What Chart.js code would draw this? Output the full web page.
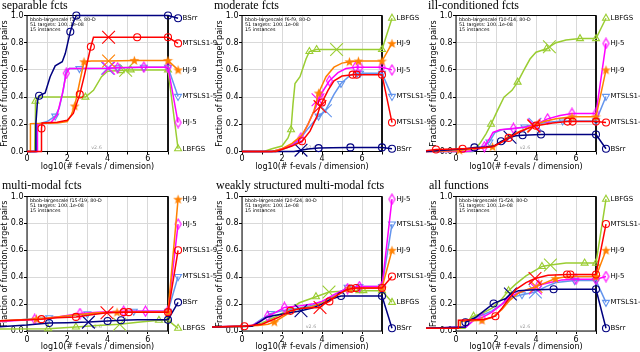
<!DOCTYPE html>
<html><head><meta charset="utf-8">
<script src="https://cdn.jsdelivr.net/npm/chart.js@4.4.1/dist/chart.umd.min.js"></script>
<style>
html,body{margin:0;padding:0;background:#fff;width:640px;height:352px;overflow:hidden}
#wrap{position:relative;width:640px;height:352px}
#wrap canvas{position:absolute;left:0;top:0}
</style></head><body><div id="wrap"></div>
<script>
// ---- categories / labels ----
const ALGOS = ['BSrr','MTSLS1-9','HJ-9','MTSLS1-5','HJ-5','LBFGS'];
const TITLES = ['separable fcts','moderate fcts','ill-conditioned fcts','multi-modal fcts','weakly structured multi-modal fcts','all functions'];
const FRANGES = ['f1-f5','f6-f9','f10-f14','f15-f19','f20-f24','f1-f24'];
const X_TICKS = [0,2,4,6];
const Y_TICKS = [0,0.2,0.4,0.6,0.8,1.0];
// data points: [log10(#fevals/dim), fraction, marker(1=marker,2=cross)]
// ---- separable ----
const sep_BSrr = [[0,0],[0.42,0],[0.44,0.2],[0.52,0.37],[0.6,0.41,1],[0.9,0.43],[1.15,0.55],[1.4,0.63],[1.75,0.66],[1.9,0.72],[2.15,0.88,1],[2.3,0.95],[2.45,1,1],[7,1,1],[7.5,0.98,1]];
const sep_MTSLS19 = [[0,0],[0.7,0],[0.72,0.17,1],[0.75,0.21],[1.5,0.215],[2.0,0.23],[2.3,0.28],[2.62,0.42,1],[2.85,0.56],[3.0,0.66],[3.17,0.77,1],[3.3,0.84],[4.05,0.84,2],[5.47,0.84,1],[7,0.84,1],[7.5,0.795,1]];
const sep_HJ9 = [[0,0],[0.15,0],[0.17,0.205],[1.5,0.21],[2.0,0.22],[2.2,0.27],[2.37,0.335,1],[2.6,0.5],[2.83,0.66,1],[3.2,0.665],[4.05,0.665,2],[5.33,0.67,1],[7,0.67,1],[7.5,0.6,1]];
const sep_MTSLS15 = [[0,0],[0.48,0],[0.5,0.2],[1.0,0.22],[1.4,0.26,1],[1.6,0.32],[1.8,0.45],[1.95,0.6],[2.1,0.61],[2.6,0.61,1],[4.0,0.612,2],[4.5,0.615,1],[5.8,0.62,1],[7,0.62,1],[7.5,0.405,1]];
const sep_HJ5 = [[0,0],[0.5,0],[0.52,0.2],[1.2,0.215],[1.5,0.27],[1.75,0.42],[1.95,0.575,1],[2.1,0.61],[4.05,0.612,2],[4.5,0.615,1],[5.8,0.62,1],[7,0.62,1],[7.5,0.213,1]];
const sep_LBFGS = [[0,0],[0.38,0],[0.4,0.2],[0.42,0.37,1],[0.55,0.4],[2.9,0.4,1],[3.3,0.45],[3.7,0.55],[4.0,0.59],[4.65,0.595,1],[4.9,0.597,2],[5.15,0.6,1],[7,0.6,1],[7.5,0.02,1]];
// ---- moderate ----
const mod_BSrr = [[0,0],[2.6,0],[2.95,0.01,2],[3.3,0.018],[3.83,0.025,1],[4.5,0.028],[5.42,0.03,1],[7,0.03,1],[7.5,0.02,1]];
const mod_MTSLS19 = [[0,0],[1.7,0],[2.5,0.04],[3.0,0.075,1],[3.4,0.15],[3.75,0.26],[3.9,0.33,2],[4.0,0.36,1],[4.3,0.45],[4.6,0.52],[5.0,0.555],[5.53,0.565,1],[5.73,0.565,1],[7,0.565,1],[7.5,0.213,1]];
const mod_HJ9 = [[0,0],[1.5,0],[2.0,0.02],[2.5,0.06],[3.0,0.12],[3.3,0.2],[3.6,0.3],[3.83,0.43,1],[4.2,0.55],[4.6,0.62],[5.0,0.65],[5.37,0.66,1],[5.82,0.665,1],[7,0.665,1],[7.5,0.795,1]];
const mod_MTSLS15 = [[0,0],[1.7,0],[2.3,0.03],[2.8,0.07],[3.2,0.15],[3.6,0.22],[3.83,0.26,1],[4.17,0.3,2],[4.6,0.42],[4.95,0.5,1],[5.4,0.56],[5.75,0.575,1],[5.9,0.575,1],[7,0.575,1],[7.5,0.405,1]];
const mod_HJ5 = [[0,0],[1.5,0],[2.0,0.02],[2.5,0.05],[2.95,0.1,1],[3.3,0.2],[3.7,0.33],[3.8,0.38,2],[3.9,0.41,1],[4.37,0.52,1],[4.8,0.58],[5.2,0.61],[5.67,0.62,1],[5.9,0.62,1],[7,0.62,1],[7.5,0.6,1]];
const mod_LBFGS = [[0,0],[1.1,0],[1.5,0.02],[2.0,0.04],[2.3,0.1],[2.45,0.16,1],[2.55,0.35],[2.65,0.5],[2.9,0.55],[3.2,0.68],[3.37,0.735,1],[3.73,0.75,1],[4.73,0.75,2],[7,0.75,1],[7.5,0.98,1]];
// ---- ill-conditioned ----
const ill_BSrr = [[-1.5,0],[0.5,0.02],[0.92,0.03,1],[1.5,0.033],[1.9,0.04],[2.25,0.075,1],[2.7,0.105,2],[3.0,0.115],[3.33,0.12,1],[4.25,0.125,1],[7,0.125,1],[7.5,0.02,1]];
const ill_MTSLS19 = [[-1.5,0.005],[-1.0,0.015,1],[0.33,0.02,1],[1.2,0.025],[1.83,0.035],[2.3,0.07],[2.63,0.1,1],[3.2,0.145],[3.6,0.17],[3.9,0.185,2],[4.0,0.19,1],[4.83,0.21],[5.58,0.22,1],[5.83,0.22,1],[7,0.22,1],[7.5,0.213,1]];
const ill_HJ9 = [[-1.5,0],[0.0,0.005],[0.17,0.01,1],[1.0,0.02],[1.83,0.035,1],[2.2,0.06],[2.6,0.11],[3.2,0.15],[3.87,0.19,2],[4.4,0.22],[5.0,0.24],[5.8,0.255,1],[7,0.255,1],[7.5,0.6,1]];
const ill_MTSLS15 = [[-1.5,0],[0.8,0],[1.3,0.03],[1.67,0.07,1],[1.95,0.14],[2.3,0.16],[2.9,0.17],[3.42,0.18,1],[3.95,0.2,2],[4.6,0.215],[5.33,0.225,1],[7,0.225,1],[7.5,0.405,1]];
const ill_HJ5 = [[-1.5,0],[0.5,0],[1.0,0.01],[1.42,0.035,1],[1.7,0.1],[1.85,0.14],[2.2,0.16],[2.87,0.17,1],[3.5,0.18],[3.9,0.195,2],[4.58,0.24,1],[5.2,0.265],[5.8,0.28,1],[7,0.28,1],[7.5,0.795,1]];
const ill_LBFGS = [[-1.5,0],[0.85,0],[1.2,0.06],[1.5,0.13],[1.75,0.2,1],[2.1,0.31],[2.4,0.4],[2.8,0.45],[3.08,0.51,1],[3.4,0.6],[3.7,0.68],[4.0,0.73],[4.53,0.755,1],[4.67,0.77,2],[5.0,0.8],[5.5,0.82],[6.2,0.83,1],[7,0.83,1],[7.5,0.98,1]];
// ---- multi-modal ----
const mm_BSrr = [[-1.5,0.03],[0,0.045],[1.1,0.06,1],[2.0,0.062],[3.05,0.066,2],[4.0,0.074,1],[4.67,0.08,1],[5.5,0.083],[7,0.083,1],[7.5,0.213,1]];
const mm_MTSLS19 = [[-1.5,0.075],[0.72,0.088,1],[1.5,0.098],[2.43,0.105,1],[3.2,0.12],[3.97,0.135,2],[4.8,0.14,1],[5.05,0.14,1],[7,0.14,1],[7.5,0.6,1]];
const mm_HJ9 = [[-1.5,0.075],[0.47,0.09,1],[1.5,0.105],[2.47,0.12],[3.5,0.135],[4.47,0.14,1],[5.5,0.142],[7,0.142,1],[7.5,0.98,1]];
const mm_MTSLS15 = [[-1.5,0.07],[1.1,0.098,1],[2.0,0.11],[3.0,0.128,1],[4.0,0.137],[5.3,0.147,1],[7,0.147,1],[7.5,0.405,1]];
const mm_HJ5 = [[-1.5,0.07],[0.38,0.086,1],[1.5,0.105],[2.63,0.13,1],[3.5,0.14],[4.8,0.147,1],[5.88,0.147,1],[7,0.147,1],[7.5,0.795,1]];
const mm_LBFGS = [[-1.5,0.015],[1.05,0.017,1],[2.43,0.03,1],[3.5,0.04],[4.6,0.05,2],[5.5,0.065],[6.55,0.08,1],[7,0.08,1],[7.5,0.02,1]];
// ---- weakly structured ----
const ws_BSrr = [[-1.5,0.03],[0.5,0.035],[0.9,0.07],[1.2,0.1],[1.6,0.115],[2.2,0.13],[2.95,0.15,2],[3.5,0.17],[4.0,0.2],[4.5,0.24],[4.95,0.26,1],[7,0.26,1],[7.5,0.02,1]];
const ws_MTSLS19 = [[-1.5,0.03],[0.12,0.035,1],[1.0,0.05],[1.8,0.1],[2.42,0.15,1],[3.0,0.17],[3.9,0.175,2],[4.1,0.2],[4.37,0.22,1],[4.8,0.27],[5.2,0.305],[5.45,0.315,1],[5.7,0.32,1],[7,0.32,1],[7.5,0.405,1]];
const ws_HJ9 = [[-1.5,0.03],[0.8,0.04],[1.3,0.05],[1.62,0.067,1],[2.2,0.12],[2.7,0.16],[3.5,0.18],[4.2,0.22],[4.8,0.27],[5.37,0.315,1],[7,0.32,1],[7.5,0.6,1]];
const ws_MTSLS15 = [[-1.5,0.03],[0.5,0.04],[1.0,0.09],[1.45,0.13,1],[2.0,0.15],[2.8,0.17],[3.5,0.19],[4.2,0.23],[4.8,0.28],[5.28,0.325,1],[5.87,0.33,1],[7,0.33,1],[7.5,0.795,1]];
const ws_HJ5 = [[-1.5,0.03],[0.5,0.04],[1.0,0.08],[1.28,0.11,1],[1.7,0.14],[2.12,0.175,1],[2.8,0.185],[3.5,0.2],[4.0,0.22],[4.6,0.27],[5.0,0.3],[5.28,0.315,1],[5.87,0.33,1],[7,0.33,1],[7.5,0.98,1]];
const ws_LBFGS = [[-1.5,0.03],[0.5,0.035],[1.0,0.06],[1.6,0.1],[2.37,0.16],[2.87,0.21],[3.7,0.255,1],[4.35,0.29,2],[5.0,0.295],[5.87,0.3,1],[6.07,0.3,1],[7,0.3,1],[7.5,0.213,1]];
// ---- all functions ----
const all_BSrr = [[-1.5,0.02],[0.45,0.03],[0.47,0.065,1],[0.97,0.1],[1.4,0.15],[1.88,0.205,1],[2.47,0.24],[2.72,0.275,2],[3.13,0.3],[3.7,0.305],[4.88,0.31,1],[7,0.31,1],[7.5,0.02,1]];
const all_MTSLS19 = [[-1.5,0.02],[0.1,0.02],[0.12,0.08],[1.4,0.085],[1.97,0.11,1],[2.3,0.17],[2.6,0.23],[3.0,0.31],[3.5,0.36],[3.95,0.39,2],[4.6,0.415],[5.55,0.42,1],[5.72,0.42,1],[7,0.42,1],[7.5,0.795,1]];
const all_HJ9 = [[-1.5,0.02],[0.2,0.02],[0.22,0.07],[1.3,0.08,1],[1.8,0.1],[2.3,0.16],[2.7,0.23],[3.1,0.28],[3.6,0.31],[4.0,0.33,2],[4.97,0.39,1],[5.6,0.405],[7,0.405,1],[7.5,0.6,1]];
const all_MTSLS15 = [[-1.5,0.02],[0.5,0.03],[1.0,0.1],[1.5,0.13],[1.8,0.15],[2.3,0.2],[2.8,0.25],[3.3,0.27,1],[3.97,0.29,2],[4.5,0.33],[5.0,0.36],[5.93,0.375,1],[7,0.375,1],[7.5,0.213,1]];
const all_HJ5 = [[-1.5,0.02],[0.5,0.03],[0.9,0.08],[1.3,0.1,1],[1.8,0.14],[2.3,0.2],[2.63,0.25],[3.2,0.29],[3.7,0.31],[3.97,0.32,2],[4.13,0.34,1],[4.7,0.36],[5.3,0.38],[6.0,0.385,1],[7,0.385,1],[7.5,0.405,1]];
const all_LBFGS = [[-1.5,0.02],[0.45,0.02],[0.5,0.07],[0.88,0.11,1],[1.3,0.13],[1.8,0.17],[2.3,0.24],[2.63,0.3,1],[3.0,0.35],[3.5,0.41],[4.3,0.48,1],[4.72,0.49,2],[5.5,0.505],[6.43,0.505,1],[7,0.505,1],[7.5,0.98,1]];

const SERIES = [
  [sep_BSrr, sep_MTSLS19, sep_HJ9, sep_MTSLS15, sep_HJ5, sep_LBFGS],
  [mod_BSrr, mod_MTSLS19, mod_HJ9, mod_MTSLS15, mod_HJ5, mod_LBFGS],
  [ill_BSrr, ill_MTSLS19, ill_HJ9, ill_MTSLS15, ill_HJ5, ill_LBFGS],
  [mm_BSrr, mm_MTSLS19, mm_HJ9, mm_MTSLS15, mm_HJ5, mm_LBFGS],
  [ws_BSrr, ws_MTSLS19, ws_HJ9, ws_MTSLS15, ws_HJ5, ws_LBFGS],
  [all_BSrr, all_MTSLS19, all_HJ9, all_MTSLS15, all_HJ5, all_LBFGS]
];

// ---- styles / layout ----
const COLORS = ['#000080','#ff0000','#ff8000','#6495ed','#ff00ff','#9acd32'];
const DRAW_ORDER = [1,0,2,4,3,5]; // lower = on top
const GEOM = [
  {L:27, R:168, T:15.5, B:151.5, H:20, tx:2, ty:9},
  {L:242, R:382, T:15.5, B:151.5, H:20, tx:214, ty:9},
  {L:456, R:596, T:15.5, B:151.5, H:20, tx:428, ty:9},
  {L:27, R:168, T:196.5, B:331, H:21, tx:2, ty:189},
  {L:242, R:382, T:196.5, B:331, H:21, tx:216, ty:189},
  {L:456, R:596, T:196.5, B:331, H:21, tx:429, ty:189}
];

function makeStar(color){
  const c=document.createElement('canvas'); c.width=11; c.height=11;
  const g=c.getContext('2d'); g.beginPath();
  for(let k=0;k<10;k++){const r=k%2?2.1:5.2; const a=-Math.PI/2+k*Math.PI/5; g.lineTo(5.5+r*Math.cos(a),5.9+r*Math.sin(a));}
  g.closePath(); g.fillStyle=color; g.fill(); return c;
}
function makeDiamond(color){
  const c=document.createElement('canvas'); c.width=9; c.height=12;
  const g=c.getContext('2d'); g.beginPath();
  g.moveTo(4.5,1); g.lineTo(7.5,6); g.lineTo(4.5,11); g.lineTo(1.5,6); g.closePath();
  g.strokeStyle=color; g.lineWidth=1.1; g.stroke(); return c;
}
const MARKERS = ['circle','circle',makeStar(COLORS[2]),'triangle',makeDiamond(COLORS[4]),'triangle'];
const ROTATION = [0,0,0,180,0,0];

Chart.defaults.font.family = 'DejaVu Sans';

const panelPlugin = {
  id: 'panelDecor',
  beforeDatasetsDraw(chart, args, opts){
    const a = chart.chartArea, ctx = chart.ctx, xs = chart.scales.x;
    ctx.save();
    ctx.strokeStyle = '#000'; ctx.lineWidth = 1;
    ctx.strokeRect(a.left, a.top, a.right - a.left, a.bottom - a.top);
    ctx.lineWidth = 1.6;
    ctx.beginPath(); ctx.moveTo(xs.getPixelForValue(7), a.top); ctx.lineTo(xs.getPixelForValue(7), a.bottom); ctx.stroke();
    // annotation
    ctx.fillStyle = '#000'; ctx.font = '4.8px "DejaVu Sans"'; ctx.textBaseline = 'middle'; ctx.textAlign = 'left';
    ctx.fillText('bbob-largescale ' + opts.fr + ', 80-D', a.left + 3, a.top + 4.5);
    ctx.fillText('51 targets: 100..1e-08', a.left + 3, a.top + 9.5);
    ctx.fillText('15 instances', a.left + 3, a.top + 14.5);
    ctx.fillStyle = '#a0a0a0'; ctx.textAlign = 'center';
    ctx.fillText('v2.6', xs.getPixelForValue(3.45), a.bottom - 4);
    ctx.restore();
    // let markers outside the axes be drawn (like clip_on=False)
    chart.$saved = {left:a.left, right:a.right, top:a.top, bottom:a.bottom};
    a.left -= 80; a.right += 40; a.top -= 20; a.bottom += 20;
  },
  afterDatasetsDraw(chart){
    Object.assign(chart.chartArea, chart.$saved);
  },
  afterDraw(chart, args, opts){
    const ctx = chart.ctx;
    ctx.save();
    ctx.fillStyle = '#000'; ctx.textBaseline = 'alphabetic'; ctx.textAlign = 'left';
    ctx.font = '12px "Liberation Serif"';
    ctx.fillText(opts.title, opts.tx, opts.ty);
    ctx.font = '7px "DejaVu Sans"'; ctx.textBaseline = 'middle';
    chart.data.datasets.forEach((ds, i) => {
      const meta = chart.getDatasetMeta(i);
      const p = meta.data[meta.data.length - 1];
      ctx.fillText(ds.label, p.x + 4.5, p.y);
    });
    ctx.restore();
  }
};

const wrap = document.getElementById('wrap');
GEOM.forEach((g, pi) => {
  const cv = document.createElement('canvas');
  cv.width = 640; cv.height = 352; cv.style.width = '640px'; cv.style.height = '352px';
  wrap.appendChild(cv);
  const datasets = ALGOS.map((name, ai) => ({
    label: name,
    data: SERIES[pi][ai],
    order: DRAW_ORDER[ai],
    borderColor: COLORS[ai],
    backgroundColor: COLORS[ai],
    borderWidth: 1.5,
    tension: 0,
    clip: false,
    pointBackgroundColor: 'rgba(0,0,0,0)',
    pointBorderColor: COLORS[ai],
    pointBorderWidth: 1.1,
    pointStyle: (c) => (c.raw && c.raw[2] === 2) ? 'crossRot' : MARKERS[ai],
    pointRotation: (c) => (c.raw && c.raw[2] === 2) ? 0 : ROTATION[ai],
    pointRadius: (c) => { const m = c.raw && c.raw[2]; return m === 2 ? 9 : (m ? (ai === 3 || ai === 5 ? 4 : 3.5) : 0); }
  }));
  new Chart(cv, {
    type: 'line',
    data: { datasets },
    options: {
      responsive: false, animation: false, devicePixelRatio: 1, events: [],
      layout: { padding: { left: g.L - 27, right: 640 - g.R, top: g.T, bottom: 352 - g.B - g.H } },
      plugins: {
        legend: { display: false }, tooltip: { enabled: false },
        panelDecor: { title: TITLES[pi], fr: FRANGES[pi], tx: g.tx, ty: g.ty }
      },
      scales: {
        x: {
          type: 'linear',
          afterDataLimits: (s) => { s.min = 0; s.max = 7; },
          ticks: { stepSize: 1, autoSkip: false, maxRotation: 0, padding: pi < 3 ? 0 : 1,
            callback: (v) => X_TICKS.includes(v) ? String(v) : '',
            font: { family: 'DejaVu Sans', size: 8 }, color: '#000' },
          grid: { color: '#d9d9d9', lineWidth: 1, tickLength: 3, tickColor: '#000' },
          border: { display: false },
          title: { display: true, text: 'log10(# f-evals / dimension)', font: { family: 'DejaVu Sans', size: 8 }, color: '#000', padding: 0 },
          afterFit: (s) => { s.height = g.H; }
        },
        y: {
          min: 0, max: 1,
          ticks: { stepSize: 0.2, padding: 0.5,
            callback: (v) => { const r = Math.round(v * 10) / 10; return Y_TICKS.includes(r) ? r.toFixed(1) : ''; },
            font: { family: 'DejaVu Sans', size: 8 }, color: '#000' },
          grid: { color: '#d9d9d9', lineWidth: 1, tickLength: 3, tickColor: '#000' },
          border: { display: false },
          title: { display: true, text: 'Fraction of function,target pairs', font: { family: 'DejaVu Sans', size: 8 }, color: '#000', padding: 0 },
          afterFit: (s) => { s.width = 27; }
        }
      }
    },
    plugins: [panelPlugin]
  });
});
</script></body></html>
